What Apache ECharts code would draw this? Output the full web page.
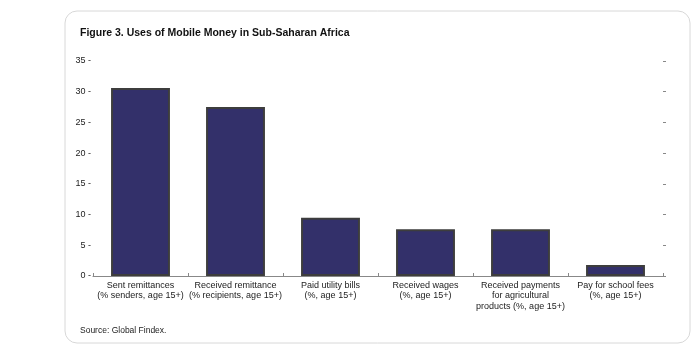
<!DOCTYPE html>
<html>
<head>
<meta charset="utf-8">
<script src="https://cdn.jsdelivr.net/npm/echarts@6/dist/echarts.min.js"></script>
<style>
  html, body { margin: 0; padding: 0; background: #fff; }
  #chart { width: 700px; height: 353px; }
</style>
</head>
<body>
<div id="chart"></div>
<script>
  // data
  var categories = [
    'Sent remittances\n(% senders, age 15+)',
    'Received remittance\n(% recipients, age 15+)',
    'Paid utility bills\n(%, age 15+)',
    'Received wages\n(%, age 15+)',
    'Received payments\nfor agricultural\nproducts (%, age 15+)',
    'Pay for school fees\n(%, age 15+)'
  ]
  var values = [30.6, 27.5, 9.5, 7.6, 7.6, 1.8]
  var yTicks = [0, 5, 10, 15, 20, 25, 30, 35]

  var font = '"Liberation Sans", Arial, sans-serif'
  var chart = echarts.init(document.getElementById('chart'))

  chart.setOption({
    backgroundColor: '#fff',
    animation: false,
    textStyle: { fontFamily: font },
    graphic: [{
      type: 'rect',
      shape: { x: 65, y: 11, width: 625, height: 332, r: 12 },
      style: { fill: 'none', stroke: '#d8d8d8', lineWidth: 1 },
      z: -1
    }, {
      type: 'text',
      left: 80, top: 326,
      style: { text: 'Source: Global Findex.', font: '8.5px ' + font, fill: '#222' }
    }],
    title: {
      text: 'Figure 3. Uses of Mobile Money in Sub-Saharan Africa',
      left: 75, top: 23,
      textStyle: { fontFamily: font, fontSize: 10.5, fontWeight: 'bold', color: '#111' }
    },
    grid: { left: 93, right: 37, top: 61, bottom: 77 },
    xAxis: {
      type: 'category',
      data: categories,
      axisLine: { lineStyle: { color: '#888', width: 1 } },
      axisTick: { show: true, inside: true, length: 3, lineStyle: { color: '#888' } },
      axisLabel: { color: '#222', fontSize: 9, lineHeight: 10.5, margin: 4, interval: 0 }
    },
    yAxis: [{
      type: 'value',
      min: 0, max: yTicks[yTicks.length - 1], interval: 5,
      axisLine: { show: false },
      axisTick: { show: false },
      splitLine: { show: false },
      axisLabel: { color: '#222', fontSize: 9, margin: 2, formatter: '{value} -' }
    }, {
      type: 'value',
      position: 'right',
      min: 0, max: yTicks[yTicks.length - 1], interval: 5,
      axisLine: { show: false },
      axisTick: { show: true, length: 3, lineStyle: { color: '#888' } },
      splitLine: { show: false },
      axisLabel: { show: false }
    }],
    series: [{
      type: 'bar',
      data: values,
      barWidth: '62%',
      itemStyle: { color: '#33306a', borderColor: '#3d3d3d', borderWidth: 2 }
    }]
  })
</script>
</body>
</html>
